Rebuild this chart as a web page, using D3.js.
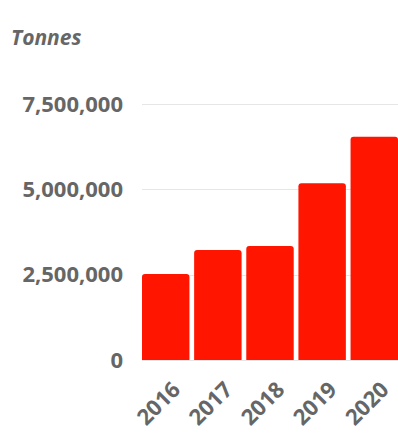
<!DOCTYPE html>
<html><head><meta charset="utf-8">
<script src="https://cdn.jsdelivr.net/npm/d3@7"></script>
<style>body{margin:0;background:#fff}svg{display:block}text{font-family:"Open Sans",sans-serif}</style>
</head><body>
<script>
const years = ["2016","2017","2018","2019","2020"];
const tonnes = [2520000, 3220000, 3340000, 5180000, 6540000];
const yTicks = [0, 2500000, 5000000, 7500000];
const unitLabel = "Tonnes";

const W = 398, H = 434;
const svg = d3.select("body").append("svg").attr("width", W).attr("height", H);

const x = d3.scaleBand().domain(years).range([142, 398]).paddingInner(0.09).paddingOuter(0);
const y = d3.scaleLinear().domain([0, 7500000]).range([360, 104]);

svg.append("g").selectAll("line").data(yTicks).join("line")
  .attr("x1", 142).attr("x2", 398)
  .attr("y1", d => Math.round(y(d)) + 0.5).attr("y2", d => Math.round(y(d)) + 0.5)
  .attr("stroke", "#e6e6e6").attr("stroke-width", 1);

const r = 3;
svg.append("g").selectAll("path").data(years).join("path")
  .attr("fill", "#ff1500")
  .attr("d", (d, i) => {
    const x0 = x(d), w = x.bandwidth(), y0 = y(tonnes[i]), yb = y(0);
    return `M${x0},${yb}V${y0 + r}Q${x0},${y0} ${x0 + r},${y0}H${x0 + w - r}Q${x0 + w},${y0} ${x0 + w},${y0 + r}V${yb}Z`;
  });

const fmt = d3.format(",");
svg.append("g").selectAll("text").data(yTicks).join("text")
  .attr("x", 123).attr("y", d => y(d)).attr("dy", "0.35em")
  .attr("text-anchor", "end").attr("fill", "#666666")
  .style("font-size", "22px").style("font-weight", "700")
  .text(d => fmt(d));

svg.append("g").selectAll("text").data(years).join("text")
  .attr("text-anchor", "end").attr("fill", "#666666")
  .style("font-size", "22px").style("font-weight", "700")
  .attr("transform", d => `translate(${x(d) + x.bandwidth() / 2 + 16},${391}) rotate(-45)`)
  .text(d => d);

svg.append("text").attr("x", 11).attr("y", 45)
  .attr("fill", "#666666").style("font-size", "21px").style("font-weight", "700").style("font-style", "italic")
  .text(unitLabel);
</script>
</body></html>
